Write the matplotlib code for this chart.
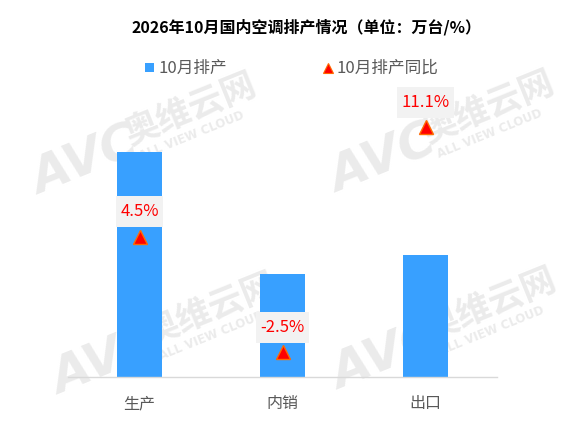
import matplotlib
matplotlib.use("Agg")
import matplotlib.pyplot as plt
from matplotlib.path import Path
from matplotlib.lines import Line2D
from matplotlib.patches import Rectangle

plt.rcParams['font.family'] = ['Noto Sans CJK SC', 'DejaVu Sans']

# ---- data ----
categories = ['生产', '内销', '出口']
production = [1620, 742, 878]          # 10月排产（万台）
yoy = [4.5, -2.5, 11.1]                # 10月排产同比（%）
yoy_labels = ['4.5%', '-2.5%', '11.1%']
title = '2026年10月国内空调排产情况（单位：万台/%）'
legend_bar = '10月排产'
legend_yoy = '10月排产同比'

W, H = 561, 447
fig = plt.figure(figsize=(W / 100, H / 100), dpi=100)
fig.patch.set_facecolor('white')

def fx(px):
    return px / W

def fy(py):
    return 1 - py / H

# watermarks
wm_color = '#ebebeb'
for cx, cy in [(190, 110), (488, 108), (210, 310), (490, 305)]:
    fig.text(fx(cx), fy(cy), '奥维云网', fontsize=25, fontweight='bold', color=wm_color,
             rotation=22, ha='center', va='center', zorder=-5)
    fig.text(fx(cx + 2), fy(cy + 26), 'ALL VIEW CLOUD', fontsize=8.5, fontweight='bold',
             color=wm_color, rotation=22, ha='center', va='center', zorder=-5,
             family='DejaVu Sans')
    fig.text(fx(cx - 105), fy(cy + 52), 'AVC', fontsize=36, fontweight='bold', style='italic',
             color=wm_color, rotation=22, ha='center', va='center', zorder=-5,
             family='DejaVu Sans')

# axes placement
left, right, bottom_px, top_px = 68, 497, 377, 57.6
ax = fig.add_axes([fx(left), fy(bottom_px), (right - left) / W, (bottom_px - top_px) / H])
ax.set_facecolor('none')
x = list(range(len(categories)))
ax.bar(x, production, width=0.315, color='#38a0ff', zorder=2)
ax.set_xlim(-0.5, len(categories) - 0.5)
ax.set_ylim(0, 2300)
for s in ['top', 'right', 'left']:
    ax.spines[s].set_visible(False)
ax.spines['bottom'].set_color('#d9d9d9')
ax.spines['bottom'].set_linewidth(1)
ax.set_yticks([])
ax.set_xticks(x)
ax.set_xticklabels(categories, fontsize=11.5, color='#595959')
ax.tick_params(axis='x', length=0, pad=13)

ax2 = ax.twinx()
ax2.set_ylim(-3.98, 15.3)
ax2.axis('off')
ax2.plot(x, yoy, linestyle='none', marker='^', markersize=10, markerfacecolor='#ff0000',
         markeredgecolor='#ff6a00', markeredgewidth=1, zorder=4)


def label_box(x0, y0, width, height, mutation_size):
    padx = 0.26 * mutation_size
    cy = y0 + height / 2
    hh = 15.5
    return Path([(x0 - padx, cy - hh), (x0 + width + padx, cy - hh),
                 (x0 + width + padx, cy + hh), (x0 - padx, cy + hh), (x0 - padx, cy - hh)],
                closed=True)


for xi, v, lab in zip(x, yoy, yoy_labels):
    ax2.annotate(lab, (xi, v), xytext=(0, 25), textcoords='offset pixels',
                 ha='center', va='center', fontsize=12, color='#ff0000',
                 bbox=dict(boxstyle=label_box, facecolor='#f2f2f2', edgecolor='none'),
                 zorder=5)

# title
fig.text(fx(306), fy(27), title, fontsize=11.5, fontweight='bold', color='#000000',
         ha='center', va='center')

# legend (manual)
fig.add_artist(Rectangle((fx(145), fy(72)), 9 / W, 9 / H, transform=fig.transFigure,
                         facecolor='#38a0ff', edgecolor='none'))
fig.text(fx(159), fy(68), legend_bar, fontsize=12, color='#595959', ha='left', va='center')
fig.add_artist(Line2D([fx(327.5)], [fy(68)], transform=fig.transFigure, marker='^',
                      markersize=7.5, markerfacecolor='#ff0000', markeredgecolor='#ff6a00',
                      markeredgewidth=0.8, linestyle='none'))
fig.text(fx(337), fy(68), legend_yoy, fontsize=12, color='#595959', ha='left', va='center')

fig.savefig('out.png', dpi=100, facecolor='white')
